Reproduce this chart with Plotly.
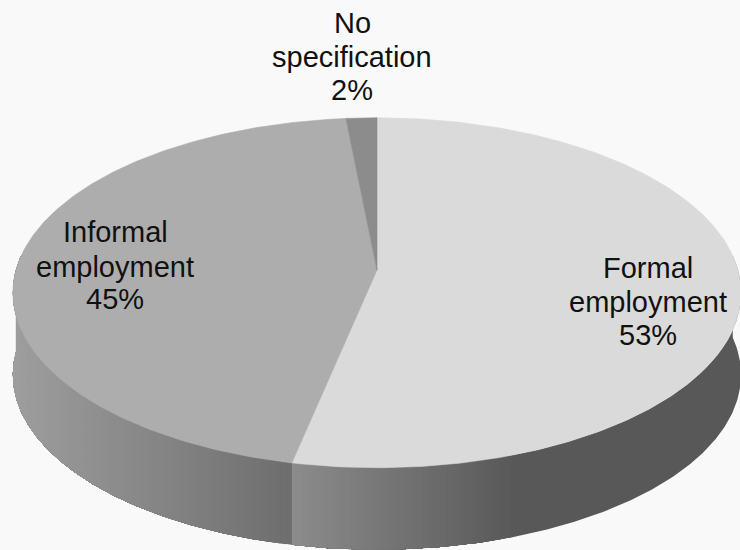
import numpy as np
import plotly.graph_objects as go

# Data
categories = ["Formal employment", "Informal employment", "No specification"]
values = [53.3, 45.15, 1.55]
top_colors = ["#dadada", "#adadad", "#8c8c8c"]
label_lines = [["Formal", "employment", "53%"],
               ["Informal", "employment", "45%"],
               ["No", "specification", "2%"]]
label_x = [648, 115, 352]
label_y = [[268, 302, 335], [232, 267, 299], [23, 57, 90]]
side_from = [0x8c, 0x9e, 0x80]
side_to = [0x58, 0x6e, 0x80]

# Pie view geometry (pixel-like plot coordinates)
APEX_X, APEX_Y = 377, 270
RX, RY, PERSP = 361, 172, 0.13
DEPTH = 82


def project(theta):
    """Clockwise angle from the top of the tilted disc -> plot coordinates."""
    x, y = np.sin(theta), np.cos(theta)
    d = 1 + PERSP * y
    return APEX_X + RX * x / d, APEX_Y - RY * y / d


fig = go.Figure()


def add_poly(xs, ys, color, lw=0.0):
    fig.add_trace(go.Scatter(x=xs, y=ys, mode="lines", fill="toself", fillcolor=color,
                             line=dict(color=color, width=lw), hoverinfo="skip", showlegend=False))


fractions = np.cumsum([0] + values) / sum(values)
edges = 2 * np.pi * fractions

# Side wall: bands of equal grey, each overlapping the next so no seams show
for i in range(len(values)):
    th = np.linspace(edges[i], edges[i + 1], 400)
    xs, ys = project(th)
    visible = (th > np.pi / 2 - 0.09) & (th < 3 * np.pi / 2 + 0.09)
    idx = np.where(visible)[0]
    if len(idx) < 2:
        continue
    c0, c1 = side_from[i], side_to[i]
    xv = xs[idx]
    if i == 0:
        # the formal wall runs right to left: lightest at the slice boundary (its minimum x)
        ramp = np.clip((xv - xv.min()) / 225, 0, 1)
    else:
        ramp = (xv - xv.min()) / (xv.max() - xv.min())
    grey = np.round(c0 + (c1 - c0) * ramp).astype(int)
    starts = [0] + [k for k in range(1, len(idx)) if grey[k] != grey[k - 1]]
    for s in starts:
        xb = xs[idx[s:]]
        yb = ys[idx[s:]]
        g = grey[s]
        add_poly(np.r_[xb, xb[::-1], xb[0]], np.r_[yb, yb[::-1] + DEPTH, yb[0]], f"rgb({g},{g},{g})")

# Top faces
for i in range(len(values)):
    th = np.linspace(edges[i], edges[i + 1], 240)
    xs, ys = project(th)
    add_poly(np.r_[APEX_X, xs, APEX_X], np.r_[APEX_Y, ys, APEX_Y], top_colors[i], 0.6)

# Labels
annotations = []
for lines, x, ys in zip(label_lines, label_x, label_y):
    for text, y in zip(lines, ys):
        annotations.append(dict(x=x, y=y, text=text, showarrow=False, xanchor="center", yanchor="middle",
                                font=dict(family="Liberation Sans", size=29, color="#111111")))

fig.update_layout(
    width=740, height=550, margin=dict(l=0, r=0, t=0, b=0),
    paper_bgcolor="#f9f9f9", plot_bgcolor="#f9f9f9", showlegend=False,
    xaxis=dict(range=[0, 740], visible=False, fixedrange=True),
    yaxis=dict(range=[550, 0], visible=False, fixedrange=True),
    annotations=annotations,
)
fig.write_html("out.html", config={"displayModeBar": False},
               post_script="document.body.style.margin='0';document.body.style.overflow='hidden';")
